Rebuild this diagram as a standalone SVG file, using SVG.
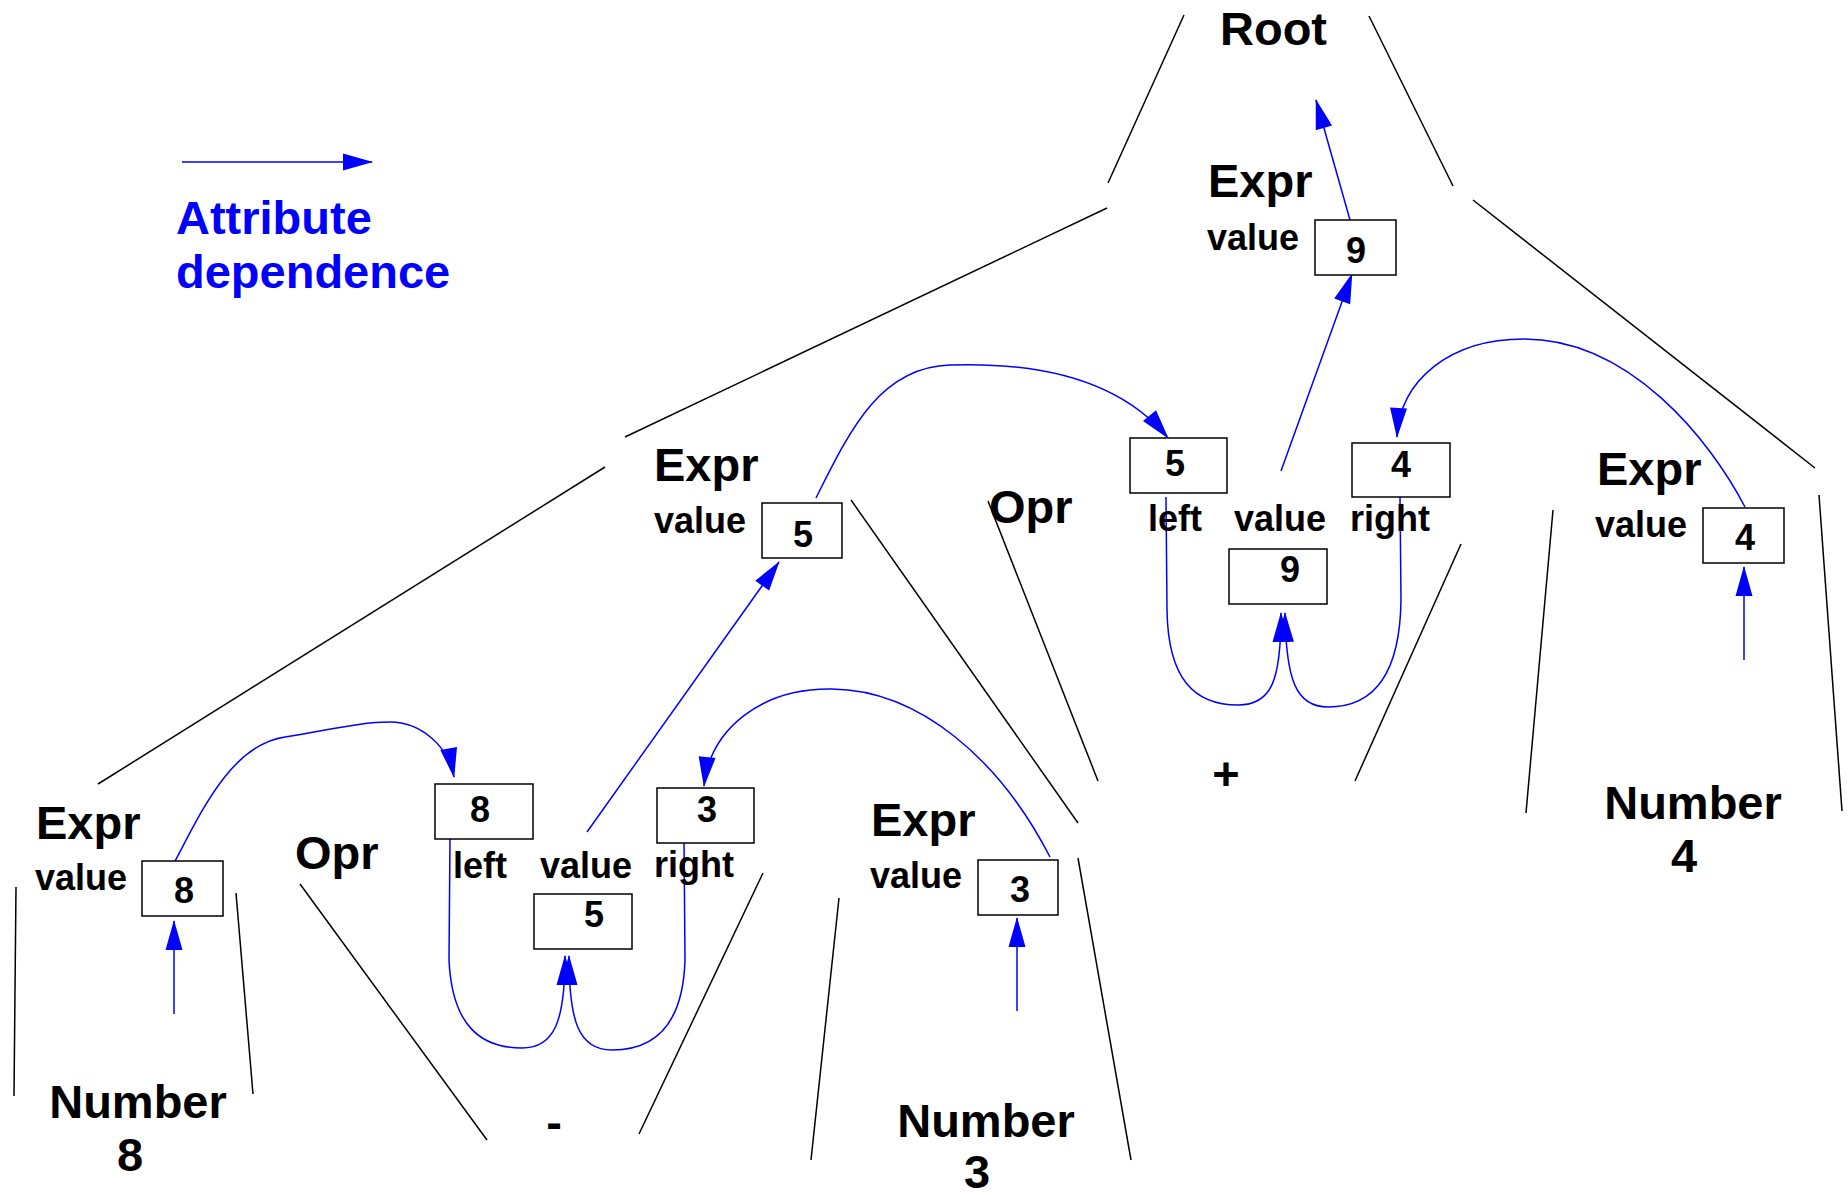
<svg xmlns="http://www.w3.org/2000/svg" width="1848" height="1195" viewBox="0 0 1848 1195">
<style>
text{font-family:"Liberation Sans",Arial,sans-serif;font-weight:bold;fill:#000}
.big{font-size:47px}
.lbl{font-size:36px}
.dig{font-size:36px;text-anchor:middle}
.leg{font-size:47px;fill:#0000ff}
.box{fill:#fff;stroke:#000;stroke-width:1.5}
.tree{stroke:#000;stroke-width:1.5;fill:none}
.dep{stroke:#0000ff;stroke-width:1.5;fill:none;marker-end:url(#ah)}
</style>
<defs>
<marker id="ah" markerUnits="userSpaceOnUse" markerWidth="30" markerHeight="17" refX="29" refY="8.5" orient="auto" overflow="visible">
<path d="M0,0 L30,8.5 L0,17 z" fill="#0000ff"/>
</marker>
</defs>
<rect width="1848" height="1195" fill="#fff"/>

<g id="connectors">
<line class="tree" x1="1184" y1="15" x2="1108" y2="183"/>
<line class="tree" x1="1369" y1="16" x2="1453" y2="186"/>
<line class="tree" x1="1107" y1="208" x2="625" y2="437"/>
<line class="tree" x1="1473" y1="200" x2="1815" y2="468"/>
<line class="tree" x1="605" y1="467" x2="98" y2="784"/>
<line class="tree" x1="851" y1="500" x2="1078" y2="823"/>
<line class="tree" x1="988" y1="501" x2="1098" y2="781"/>
<line class="tree" x1="1461" y1="544" x2="1355" y2="781"/>
<line class="tree" x1="1553" y1="510" x2="1526" y2="813"/>
<line class="tree" x1="1819" y1="495" x2="1842" y2="811"/>
<line class="tree" x1="16" y1="887" x2="14" y2="1096"/>
<line class="tree" x1="236" y1="893" x2="253" y2="1094"/>
<line class="tree" x1="300" y1="884" x2="487" y2="1140"/>
<line class="tree" x1="763" y1="873" x2="639" y2="1134"/>
<line class="tree" x1="839" y1="898" x2="811" y2="1160"/>
<line class="tree" x1="1078" y1="858" x2="1131" y2="1160"/>

<path class="dep" d="M182,162 L372,162"/>
<path class="dep" d="M1350,220 L1316,100"/>
<path class="dep" d="M1281,471 L1352,274"/>
<path class="dep" d="M587,832 L779,562"/>
<path class="dep" d="M174,1014 L174,921"/>
<path class="dep" d="M1017,1011 L1017,918"/>
<path class="dep" d="M1744,660 L1744,567"/>
<path class="dep" d="M1166,497 L1167,610 C1168,680 1195,705 1238,705 C1272,705 1281,680 1281,613"/>
<path class="dep" d="M1400,497 L1401,600 C1400,680 1370,707 1328,707 C1296,707 1286,680 1285,613"/>
<path class="dep" d="M450,839 L449,960 C452,1025 480,1048 522,1048 C555,1048 565,1020 565,956"/>
<path class="dep" d="M684,840 L685,960 C683,1025 655,1050 612,1050 C578,1050 569,1020 569,956"/>
<path class="dep" d="M1745,507 C1710,440 1630,339 1524,339 C1450,339 1400,380 1397,437"/>
<path class="dep" d="M816,498 C850,430 880,367 950,365 C1040,362 1120,380 1168,438"/>
<path class="dep" d="M174,863 C200,815 230,745 285,737 C330,730 360,722 390,722 C420,722 448,745 454,777"/>
<path class="dep" d="M1050,857 C1000,760 920,690 832,689 C760,688 710,730 704,786"/>
</g>

<g id="legend">
<text class="leg" x="176" y="234">Attribute</text>
<text class="leg" x="176" y="288">dependence</text>
</g>

<g id="root"><text class="big" x="1220" y="45">Root</text></g>

<g id="expr-top">
<text class="big" x="1208" y="197">Expr</text>
<text class="lbl" x="1207" y="250">value</text>
<rect class="box" x="1315" y="220" width="81" height="55"/>
<text class="dig" x="1356" y="263">9</text>
</g>

<g id="expr-mid">
<text class="big" x="654" y="481">Expr</text>
<text class="lbl" x="654" y="533">value</text>
<rect class="box" x="762" y="503" width="80" height="55"/>
<text class="dig" x="803" y="547">5</text>
</g>

<g id="opr-plus">
<text class="big" x="989" y="523">Opr</text>
<rect class="box" x="1130" y="438" width="97" height="55"/>
<text class="dig" x="1175" y="476">5</text>
<rect class="box" x="1352" y="443" width="98" height="54"/>
<text class="dig" x="1401" y="477">4</text>
<text class="lbl" x="1148" y="531">left</text>
<text class="lbl" x="1234" y="531">value</text>
<text class="lbl" x="1350" y="531">right</text>
<rect class="box" x="1229" y="549" width="98" height="55"/>
<text class="dig" x="1290" y="582">9</text>
<text class="big" x="1226" y="790" text-anchor="middle">+</text>
</g>

<g id="expr-4">
<text class="big" x="1597" y="485">Expr</text>
<text class="lbl" x="1595" y="537">value</text>
<rect class="box" x="1703" y="508" width="81" height="55"/>
<text class="dig" x="1745" y="550">4</text>
</g>
<g id="number-4">
<text class="big" x="1693" y="819" text-anchor="middle">Number</text>
<text class="big" x="1684" y="872" text-anchor="middle">4</text>
</g>

<g id="expr-8">
<text class="big" x="36" y="839">Expr</text>
<text class="lbl" x="35" y="890">value</text>
<rect class="box" x="142" y="861" width="81" height="55"/>
<text class="dig" x="184" y="903">8</text>
</g>
<g id="number-8">
<text class="big" x="138" y="1118" text-anchor="middle">Number</text>
<text class="big" x="130" y="1171" text-anchor="middle">8</text>
</g>

<g id="opr-minus">
<text class="big" x="295" y="869">Opr</text>
<rect class="box" x="435" y="784" width="98" height="55"/>
<text class="dig" x="480" y="822">8</text>
<rect class="box" x="657" y="788" width="97" height="55"/>
<text class="dig" x="707" y="822">3</text>
<text class="lbl" x="453" y="878">left</text>
<text class="lbl" x="540" y="878">value</text>
<text class="lbl" x="654" y="877">right</text>
<rect class="box" x="534" y="894" width="98" height="55"/>
<text class="dig" x="594" y="927">5</text>
<text class="big" x="554" y="1138" text-anchor="middle">-</text>
</g>

<g id="expr-3">
<text class="big" x="871" y="836">Expr</text>
<text class="lbl" x="870" y="888">value</text>
<rect class="box" x="978" y="860" width="80" height="55"/>
<text class="dig" x="1020" y="902">3</text>
</g>
<g id="number-3">
<text class="big" x="986" y="1137" text-anchor="middle">Number</text>
<text class="big" x="977" y="1188" text-anchor="middle">3</text>
</g>
</svg>
